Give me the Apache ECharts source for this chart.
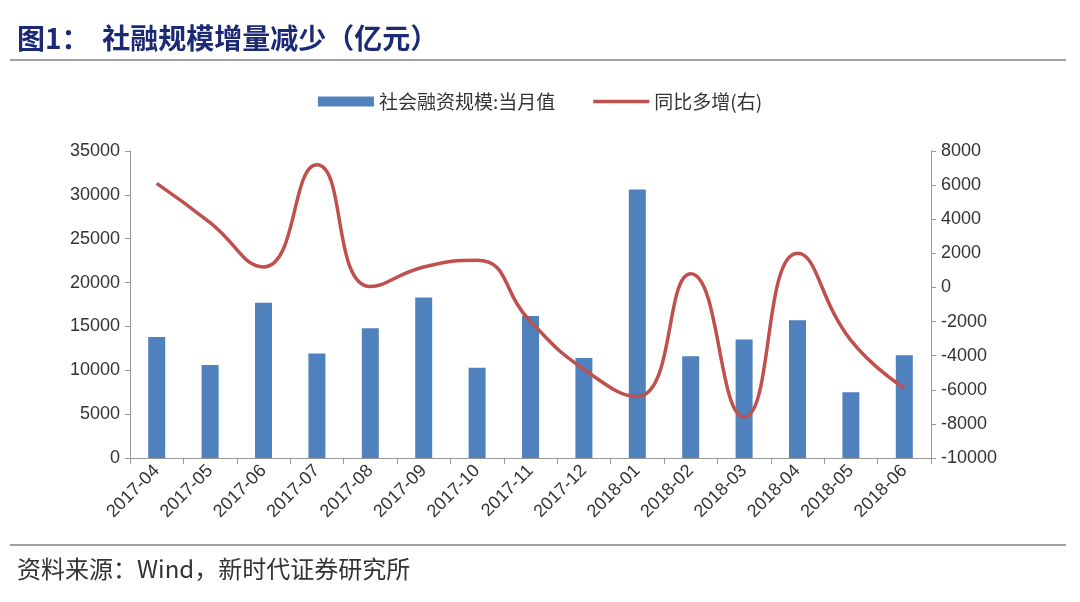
<!DOCTYPE html>
<html>
<head>
<meta charset="utf-8">
<script src="https://cdn.jsdelivr.net/npm/echarts@6/dist/echarts.min.js"></script>
<style>
  html, body { margin: 0; padding: 0; background: #fff; }
  #chart { width: 1080px; height: 602px; }
</style>
</head>
<body>
<div id="chart"></div>
<script>
// 月份
const months = ['2017-04', '2017-05', '2017-06', '2017-07', '2017-08', '2017-09', '2017-10', '2017-11',
  '2017-12', '2018-01', '2018-02', '2018-03', '2018-04', '2018-05', '2018-06']
// 社会融资规模:当月值（亿元）
const tsfMonthly = [13800, 10600, 17700, 11900, 14800, 18300, 10300, 16200, 11400, 30600, 11600, 13500, 15700, 7500, 11700]
// 同比多增（右轴）
const yoyIncrease = [6100, 3800, 1200, 7200, 50, 1200, 1600, -2000, -4800, -6400, 800, -7600, 2000, -3100, -5900]

const axisText = { color: '#333', fontSize: 18, fontFamily: 'Liberation Sans, Arial, sans-serif' }
const axisLine = { show: true, lineStyle: { color: '#999', width: 1 } }

const chart = echarts.init(document.getElementById('chart'))

const option = {
  backgroundColor: '#fff',
  animation: false,
  title: [
    {
      text: '图1：  社融规模增量减少（亿元）',
      left: 12,
      top: 19,
      textStyle: { color: '#1c2a75', fontSize: 28, fontWeight: 'bold', fontFamily: 'Noto Sans CJK SC' }
    },
    {
      text: '资料来源：Wind，新时代证券研究所',
      left: 12,
      top: 552,
      textStyle: { color: '#333', fontSize: 24, fontWeight: 'normal', fontFamily: 'Noto Sans CJK SC' }
    }
  ],
  graphic: [
    { type: 'line', shape: { x1: 10, y1: 60, x2: 1066, y2: 60 }, style: { stroke: '#444', lineWidth: 1.2 } },
    { type: 'line', shape: { x1: 10, y1: 545, x2: 1066, y2: 545 }, style: { stroke: '#444', lineWidth: 1.2 } }
  ],
  legend: {
    top: 87,
    left: 'center',
    itemGap: 38,
    textStyle: { color: '#333', fontSize: 19, fontFamily: 'Noto Sans CJK SC' },
    data: [
      { name: '社会融资规模:当月值', icon: 'rect', itemStyle: { color: '#4f81bd' } },
      { name: '同比多增(右)', icon: 'path://M0,0 L60,0 L60,4 L0,4 Z', itemStyle: { color: '#c0504d' } }
    ],
    itemWidth: 56,
    itemHeight: 10
  },
  grid: { left: 130, right: 149, top: 151, bottom: 144 },
  xAxis: {
    type: 'category',
    data: months,
    axisLine: axisLine,
    axisTick: { show: true, length: 6, lineStyle: { color: '#999' } },
    axisLabel: Object.assign({ rotate: 45, interval: 0, margin: 10 }, axisText)
  },
  yAxis: [
    {
      type: 'value',
      min: 0,
      max: 35000,
      interval: 5000,
      axisLine: axisLine,
      axisTick: { show: true, length: 5, lineStyle: { color: '#999' } },
      splitLine: { show: false },
      axisLabel: Object.assign({ margin: 10, formatter: v => String(v) }, axisText)
    },
    {
      type: 'value',
      min: -10000,
      max: 8000,
      interval: 2000,
      axisLine: axisLine,
      axisTick: { show: true, length: 5, lineStyle: { color: '#999' } },
      splitLine: { show: false },
      axisLabel: Object.assign({ margin: 10, formatter: v => String(v) }, axisText)
    }
  ],
  series: [
    {
      name: '社会融资规模:当月值',
      type: 'bar',
      yAxisIndex: 0,
      data: tsfMonthly,
      barWidth: 17,
      itemStyle: { color: '#4f81bd' }
    },
    {
      name: '同比多增(右)',
      type: 'line',
      yAxisIndex: 1,
      data: yoyIncrease,
      smooth: 0.5,
      showSymbol: false,
      lineStyle: { color: '#c0504d', width: 3.5 },
      itemStyle: { color: '#c0504d' }
    }
  ]
}

chart.setOption(option)
</script>
</body>
</html>
